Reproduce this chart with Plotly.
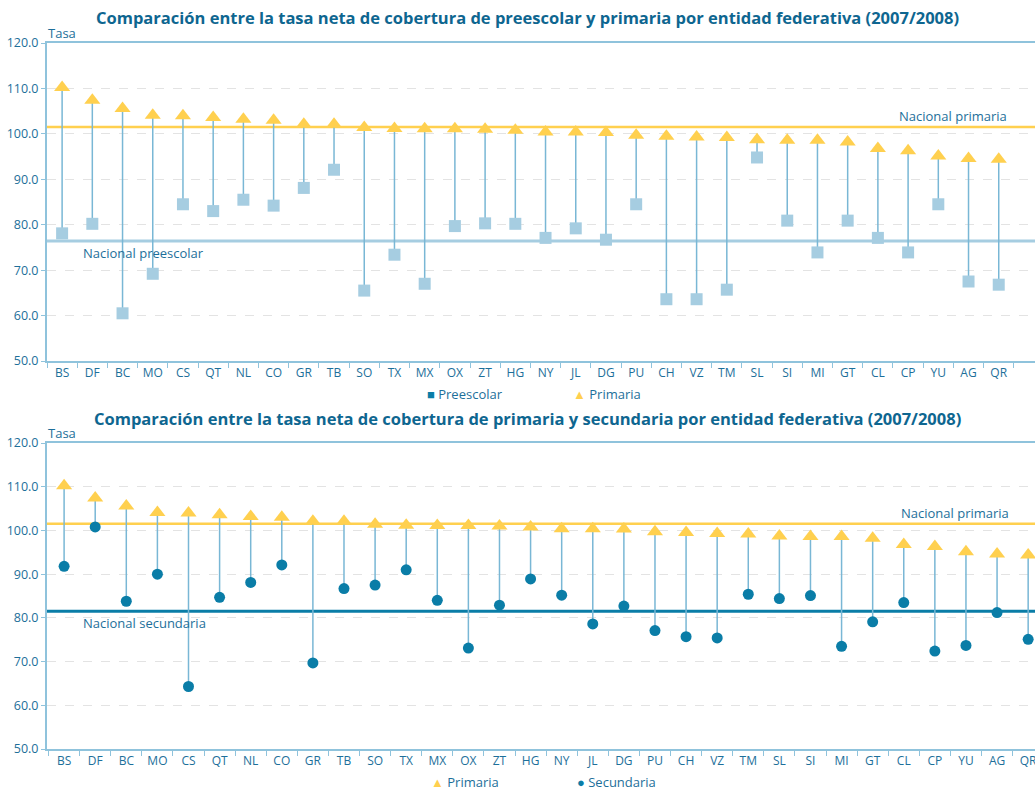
import plotly.graph_objects as go

estados = ["BS", "DF", "BC", "MO", "CS", "QT", "NL", "CO", "GR", "TB", "SO", "TX", "MX", "OX", "ZT", "HG",
           "NY", "JL", "DG", "PU", "CH", "VZ", "TM", "SL", "SI", "MI", "GT", "CL", "CP", "YU", "AG", "QR"]
primaria = [110.2, 107.4, 105.6, 104.1, 104.0, 103.6, 103.2, 103.0, 102.1, 102.1, 101.4, 101.2, 101.1, 101.1, 101.0, 100.8,
            100.4, 100.4, 100.3, 99.7, 99.5, 99.3, 99.2, 98.7, 98.6, 98.6, 98.2, 96.8, 96.3, 95.1, 94.6, 94.4]
preescolar = [78.1, 80.2, 60.5, 69.2, 84.5, 83.0, 85.5, 84.2, 88.1, 92.1, 65.5, 73.4, 67.0, 79.7, 80.3, 80.2,
              77.1, 79.2, 76.7, 84.5, 63.6, 63.6, 65.7, 94.8, 80.9, 73.9, 80.9, 77.1, 73.9, 84.5, 67.5, 66.8]
secundaria = [91.8, 100.8, 83.8, 90.0, 64.3, 84.7, 88.1, 92.1, 69.7, 86.7, 87.5, 91.0, 84.0, 73.1, 82.9, 88.9,
              85.2, 78.6, 82.7, 77.1, 75.7, 75.4, 85.4, 84.4, 85.1, 73.5, 79.1, 83.5, 72.4, 73.7, 81.2, 75.1]
nac_primaria = 101.5
nac_preescolar = 76.4
nac_secundaria = 81.5

AZUL_TXT = "#1d6f9a"
AZUL_CLARO = "#a6cde1"
AZUL_EJE = "#8fc3dc"
AMARILLO = "#ffd04f"
TEAL = "#0a7da7"
TALLO = "#79b7d5"
FUENTE = "Open Sans"

W, H = 1035, 792


def px_x(p):
    return (p - 47) / (W - 47)


def px_y(p):
    return 1 - p / H


def tallos(a, b):
    xs, ys = [], []
    for e, v1, v2 in zip(estados, a, b):
        xs += [e, e, None]
        ys += [v1, v2, None]
    return xs, ys


fig = go.Figure()

# grafica de arriba: preescolar vs primaria
sx, sy = tallos(preescolar, primaria)
fig.add_trace(go.Scatter(x=sx, y=sy, mode="lines", line=dict(color=TALLO, width=1.5),
                         xaxis="x", yaxis="y", hoverinfo="skip", showlegend=False))
fig.add_trace(go.Scatter(x=estados, y=preescolar, mode="markers", name="Preescolar",
                         marker=dict(symbol="square", size=12, color=AZUL_CLARO),
                         xaxis="x", yaxis="y", showlegend=False))
fig.add_trace(go.Scatter(x=estados, y=primaria, mode="markers", name="Primaria",
                         marker=dict(symbol="triangle-up", size=14, color=AMARILLO),
                         xaxis="x", yaxis="y", showlegend=False))

# grafica de abajo: primaria vs secundaria
sx, sy = tallos(secundaria, primaria)
fig.add_trace(go.Scatter(x=sx, y=sy, mode="lines", line=dict(color=TALLO, width=1.5),
                         xaxis="x2", yaxis="y2", hoverinfo="skip", showlegend=False))
fig.add_trace(go.Scatter(x=estados, y=primaria, mode="markers", name="Primaria",
                         marker=dict(symbol="triangle-up", size=14, color=AMARILLO),
                         xaxis="x2", yaxis="y2", showlegend=False))
fig.add_trace(go.Scatter(x=estados, y=secundaria, mode="markers", name="Secundaria",
                         marker=dict(symbol="circle", size=11, color=TEAL),
                         xaxis="x2", yaxis="y2", showlegend=False))

# lineas nacionales
for yref, val, color, width in [("y", nac_primaria, AMARILLO, 2.5), ("y", nac_preescolar, AZUL_CLARO, 3),
                                ("y2", nac_primaria, AMARILLO, 2.5), ("y2", nac_secundaria, TEAL, 3)]:
    xr = "x domain" if yref == "y" else "x2 domain"
    fig.add_shape(type="line", xref=xr, yref=yref, x0=0, x1=1, y0=val, y1=val,
                  line=dict(color=color, width=width), layer="below")

eje_x = dict(type="category", showline=True, linecolor=AZUL_EJE, linewidth=2, mirror=True,
             ticks="outside", tickson="boundaries", ticklen=5, tickcolor=AZUL_EJE, automargin=False,
             tickfont=dict(family=FUENTE, size=12, color=AZUL_TXT), showgrid=False, fixedrange=True)
eje_y = dict(range=[50, 120], tickvals=list(range(50, 121, 10)), tickformat=".1f", automargin=False,
             showline=True, linecolor=AZUL_EJE, linewidth=2, ticks="outside", ticklen=4,
             tickcolor=AZUL_EJE, showgrid=True, gridcolor="#e3e3e3", griddash="dash", gridwidth=1.2,
             tickfont=dict(family=FUENTE, size=12.5, color=AZUL_TXT), zeroline=False)

fig.update_layout(
    width=W, height=H,
    margin=dict(l=47, r=0, t=0, b=0, pad=0, autoexpand=False),
    plot_bgcolor="white", paper_bgcolor="white",
    xaxis=dict(eje_x, range=[-0.5, 32.2], anchor="y"),
    yaxis=dict(eje_y, domain=[px_y(361), px_y(43)], anchor="x"),
    xaxis2=dict(eje_x, range=[-0.55, 31.22], anchor="y2"),
    yaxis2=dict(eje_y, domain=[px_y(749), px_y(443)], anchor="x2"),
    showlegend=False,
)

titulos = [
    ("Comparación entre la tasa neta de cobertura de preescolar y primaria por entidad federativa (2007/2008)", 18),
    ("Comparación entre la tasa neta de cobertura de primaria y secundaria por entidad federativa (2007/2008)", 418),
]
for texto, py in titulos:
    fig.add_annotation(text="<b>%s</b>" % texto, xref="paper", yref="paper", x=px_x(527), y=px_y(py),
                       xanchor="center", yanchor="middle", showarrow=False,
                       font=dict(family=FUENTE, size=16.5, color="#0e6690"))

for py in [33, 433]:
    fig.add_annotation(text="Tasa", xref="paper", yref="paper", x=px_x(46), y=px_y(py),
                       xanchor="left", yanchor="middle", showarrow=False,
                       font=dict(family=FUENTE, size=13, color=AZUL_TXT))

nota = dict(showarrow=False, font=dict(family=FUENTE, size=13, color=AZUL_TXT))
fig.add_annotation(text="Nacional primaria", xref="paper", yref="y", x=px_x(1009), y=nac_primaria,
                   xanchor="right", yanchor="bottom", yshift=0, **nota)
fig.add_annotation(text="Nacional preescolar", xref="paper", yref="y", x=px_x(81), y=nac_preescolar,
                   xanchor="left", yanchor="top", yshift=-1, **nota)
fig.add_annotation(text="Nacional primaria", xref="paper", yref="y2", x=px_x(1011), y=nac_primaria,
                   xanchor="right", yanchor="bottom", yshift=0, **nota)
fig.add_annotation(text="Nacional secundaria", xref="paper", yref="y2", x=px_x(81), y=nac_secundaria,
                   xanchor="left", yanchor="top", yshift=-1, **nota)

# leyendas
leyendas = [
    ("<span style='color:%s'>■</span> Preescolar" % TEAL, 425, 394),
    ("<span style='color:%s'>▲</span> Primaria" % AMARILLO, 571, 394),
    ("<span style='color:%s'>▲</span> Primaria" % AMARILLO, 429, 782),
    ("<span style='color:%s'>●</span> Secundaria" % TEAL, 575, 782),
]
for texto, px, py in leyendas:
    fig.add_annotation(text=texto, xref="paper", yref="paper", x=px_x(px), y=px_y(py),
                       xanchor="left", yanchor="middle", showarrow=False,
                       font=dict(family=FUENTE, size=13, color=AZUL_TXT))

fig.write_html("out.html", config={"displayModeBar": False},
               post_script="document.body.style.margin='0';")
